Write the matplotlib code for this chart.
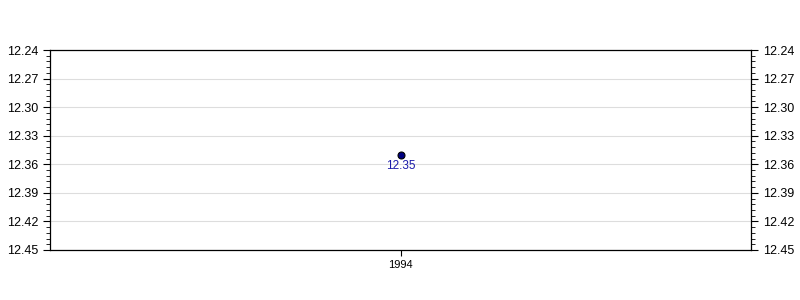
import matplotlib
matplotlib.use("Agg")
from matplotlib import pyplot as plt
from matplotlib.ticker import MultipleLocator, FormatStrFormatter

# single annual value
years = [1994]
values = [12.35]
labels = ["12.35"]

plt.rcParams['font.family'] = ['Liberation Sans', 'DejaVu Sans']

fig = plt.figure(figsize=(8, 3), dpi=100)
ax = fig.add_axes([0.0625, 0.1667, 0.87625, 0.6666])

ax.plot(years, values, 'o', color='#000080', markeredgecolor='black',
        markersize=5, markeredgewidth=0.8, zorder=3)
for x, y, t in zip(years, values, labels):
    ax.annotate(t, (x, y), xytext=(0, -3.5), textcoords='offset points',
                ha='center', va='top', color='#1a1aaa', fontsize=8.5)

ax.set_xlim(1993, 1995)
ax.set_xticks(years)
ax.set_ylim(12.45, 12.24)
ax.yaxis.set_major_locator(MultipleLocator(0.03))
ax.yaxis.set_minor_locator(MultipleLocator(0.006))
ax.yaxis.set_major_formatter(FormatStrFormatter('%.2f'))
ax.grid(axis='y', color='#dddddd', linewidth=0.8)
ax.set_axisbelow(True)

ax.tick_params(axis='y', which='both', left=True, right=True,
               labelleft=True, labelright=True, labelsize=9, direction='out')
ax.tick_params(axis='y', which='major', length=5)
ax.tick_params(axis='y', which='minor', length=3)
ax.tick_params(axis='x', labelsize=8, length=4)
for s in ax.spines.values():
    s.set_linewidth(0.9)

plt.savefig("out.png", dpi=100)
